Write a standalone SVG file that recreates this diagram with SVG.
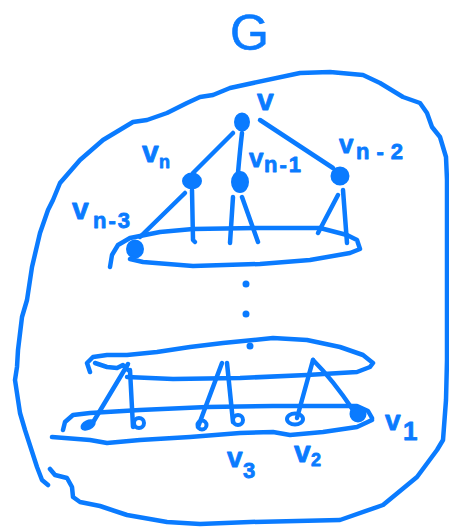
<svg xmlns="http://www.w3.org/2000/svg" width="449" height="529" viewBox="0 0 449 529">
<style>
.s{fill:none;stroke:#0a7bff;stroke-width:4.5;stroke-linecap:round;stroke-linejoin:round}
.d{fill:#0a7bff;stroke:#0a7bff;stroke-width:2}
.o{fill:none;stroke:#0a7bff;stroke-width:4}
.t{fill:#0a7bff;stroke:#0a7bff;stroke-width:0.8;stroke-linejoin:round;font-family:"Liberation Sans",Arial,sans-serif;font-weight:bold}
</style>
<rect width="449" height="529" fill="#ffffff"/>
<text id="title" x="230" y="50" font-size="50" fill="#0a7bff" stroke="#0a7bff" stroke-width="0.6" font-family="Liberation Sans, Arial, sans-serif">G</text>
<g id="outer-G">
<path class="s" d="M48,485 L42,480 L37,467 L25,430 L20,413 L15,380 L17,367 L18,350 L22,317 L27,300 L32,267 L40,233 L48,210 L53,200 L60,183 L80,160 L103,140 L133,122 L147,120 L167,113 L187,103 L200,97 L213,95 L230,88 L253,83 L300,73 L330,72 L363,75 L380,83 L403,97 L420,103 L427,113 L432,127 L440,137 L446,157 L447,180 L447,260 L447,360 L446,400 L443,440 L437,450 L417,477 L383,505 L340,520 L250,522 L200,524 L167,522 L127,515 L100,506 L80,502 L73,497 L72,487 L67,478 L55,475 L50,469"/>
</g>
<g id="layers">
<path id="layer-top" class="s" d="M110,267 L112,255 L118,245 L130,238 L160,232 L193,229 L260,228 L320,228 L347,235 L357,240 L360,249 L350,253 L310,260 L260,264 L193,266 L143,262 L130,259"/>
<path id="layer-mid" class="s" d="M90,372 L87,363 L93,357 L107,355 L127,355 L157,352 L190,347 L223,343 L273,338 L307,340 L340,347 L363,355 L373,363 L370,367 L357,372 L340,373 L307,375 L240,378 L173,379 L127,377"/>
<path class="s" d="M95,363 L107,367 L117,368 L123,365 L128,370"/>
<path id="layer-bottom" class="s" d="M63,430 L65,422 L73,415 L90,413 L140,410 L207,407 L273,406 L357,406 L368,411 L372,418"/>
<path class="s" d="M372,420 L357,427 L323,432 L290,435 L273,432 L240,433 L190,437 L140,440 L107,443 L90,440 L52,437"/>
</g>
<g id="dots">
<circle class="d" cx="246" cy="284" r="2.5"/>
<circle class="d" cx="246" cy="314" r="2.5"/>
<circle class="d" cx="250" cy="346" r="2.5"/>
</g>
<g id="connectors">
<path class="s" d="M233,133 L193,173"/>
<path class="s" d="M242,133 Q240,150 238,173"/>
<path class="s" d="M260,120 L333,168"/>
<path class="s" d="M185,193 L140,237"/>
<path class="s" d="M192,190 L193,240 L195,242"/>
<path class="s" d="M233,197 L230,243"/>
<path class="s" d="M242,197 L258,242"/>
<path class="s" d="M338,195 L318,233"/>
<path class="s" d="M343,190 L347,243"/>
<path class="s" d="M128,364 L92,424"/>
<path class="s" d="M130,370 L133,427"/>
<path class="s" d="M222,363 L198,427"/>
<path class="s" d="M227,363 L233,422"/>
<path class="s" d="M313,360 L297,418"/>
<path class="s" d="M313,360 Q333,380 353,410"/>
</g>
<g id="node-v"><ellipse class="d" cx="242" cy="122" rx="7" ry="8.5"/><text class="t" x="257" y="110" font-size="30">v</text></g>
<g id="node-vn"><ellipse class="d" cx="192" cy="181" rx="9" ry="7.5"/><text class="t" x="142" y="162" font-size="30">v<tspan x="159" y="168" font-size="18">n</tspan></text></g>
<g id="node-vn-1"><ellipse class="d" cx="240" cy="182" rx="8" ry="10"/><text class="t" x="249" y="167" font-size="26">v<tspan x="264" y="172" font-size="22" letter-spacing="2">n-1</tspan></text></g>
<g id="node-vn-2"><ellipse class="d" cx="340" cy="176" rx="8.5" ry="8.5"/><text class="t" x="339" y="153" font-size="26">v<tspan x="356" y="159" font-size="22" letter-spacing="7">n-2</tspan></text></g>
<g id="node-vn-3"><ellipse class="d" cx="135" cy="249" rx="8" ry="8.5"/><text class="t" x="72" y="219" font-size="30">v<tspan x="93" y="228" font-size="22" letter-spacing="2">n-3</tspan></text></g>
<g id="node-b1"><ellipse class="d" cx="88" cy="425" rx="7" ry="4" transform="rotate(-25 88 425)"/></g>
<g id="node-b2"><circle class="o" cx="139" cy="423" r="5"/></g>
<g id="node-b3"><circle class="o" cx="202" cy="425" r="4.5"/><text class="t" x="227" y="467" font-size="28">v<tspan x="243" y="478" font-size="22">3</tspan></text></g>
<g id="node-b4"><circle class="o" cx="238" cy="420" r="5"/></g>
<g id="node-v2"><ellipse class="o" cx="295" cy="419" rx="8" ry="5.5" stroke-width="5"/><text class="t" x="294" y="462" font-size="30">v<tspan x="311" y="466" font-size="18">2</tspan></text></g>
<g id="node-v1"><circle class="d" cx="358" cy="414" r="7.5"/><text class="t" x="385" y="430" font-size="28">v<tspan x="403" y="440" font-size="26">1</tspan></text></g>
</svg>
